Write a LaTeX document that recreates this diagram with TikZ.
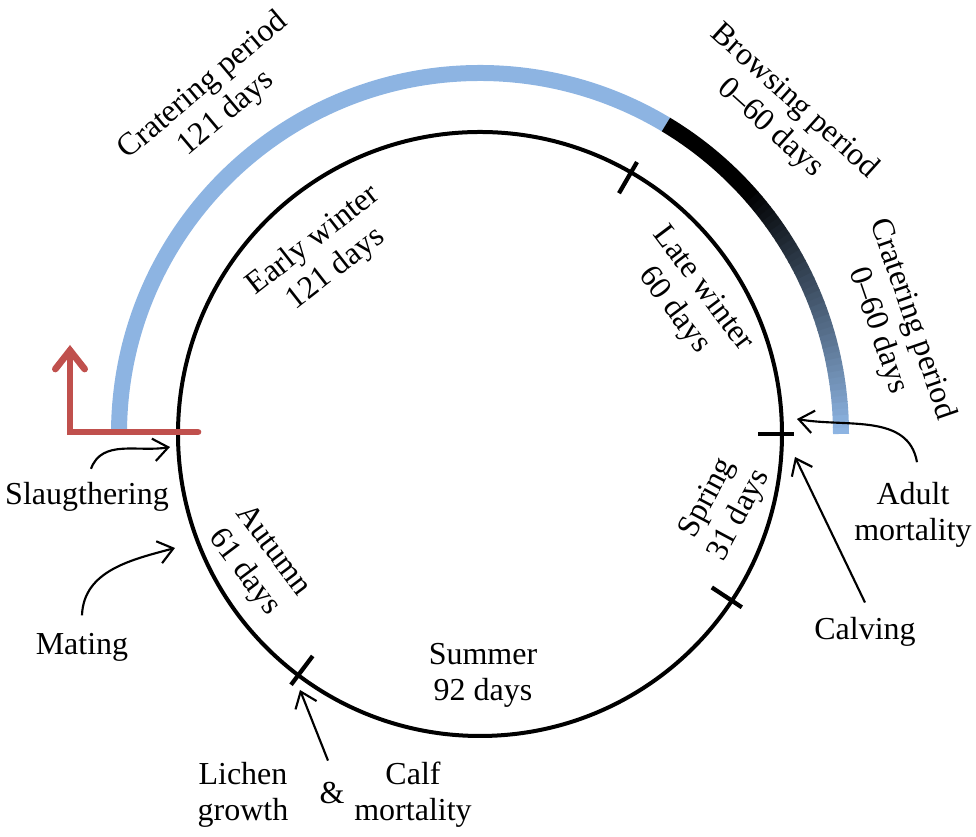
\documentclass[tikz,border=0pt]{standalone}
\usepackage{fontspec}
\setmainfont{Liberation Serif}
\usetikzlibrary{arrows.meta}
\definecolor{cratblue}{RGB}{141,180,226}
\definecolor{slaughtred}{RGB}{192,80,77}
\begin{document}
\begin{tikzpicture}[x=0.75pt,y=0.75pt,
  font=\fontsize{24}{27}\selectfont,
  lbl/.style={align=center, inner sep=1pt},
  pointer/.style={line width=1.6pt, -{Straight Barb[length=11pt,width=17pt]}},
  tickmark/.style={line width=3.2pt}]
  \useasboundingbox (0,0) rectangle (976,837);
  \coordinate (c) at (480,403);

  % year circle and season borders
  \draw[line width=3pt] (c) circle (302);
  \foreach \a in {60,0,-33.5,233}
    \draw[tickmark] ([shift={(\a:278)}]c) -- ([shift={(\a:314)}]c);

  % feeding periods
  \draw[cratblue, line width=12pt] ([shift={(180:361)}]c) arc (180:59:361);
  \foreach \a in {0,...,40}{
    \pgfmathtruncatemacro\p{100*\a/41}
    \draw[black!\p!cratblue, line width=12pt] ([shift={(\a:361)}]c) arc (\a:\a+1.1:361);
  }
  \draw[black, line width=12pt] ([shift={(59:361)}]c) arc (59:41:361);

  % seasons
  \node[lbl, rotate=38] (early) at (325,582) {Early winter\\121 days};
  \node[lbl, rotate=-53] (late) at (688,537) {Late winter\\60 days};
  \node[lbl, rotate=62] (spring) at (724,330) {Spring\\31 days};
  \node[lbl] (summer) at (483,162) {Summer\\92 days};
  \node[lbl, rotate=-53] (autumn) at (258,275) {Autumn\\61 days};

  % periods
  \node[lbl, rotate=40] (crat1) at (215,737) {Cratering period\\121 days};
  \node[lbl, rotate=-42] (browse) at (782,722) {Browsing period\\0--60 days};
  \node[lbl, rotate=-71] (crat2) at (895,512) {Cratering period\\0--60 days};

  % events
  \node[lbl] (slaughter) at (87,340) {Slaugthering};
  \node[lbl] (mating) at (82,190) {Mating};
  \node[lbl] (adult) at (913,322) {Adult\\mortality};
  \node[lbl] (calving) at (865,205) {Calving};
  \node[lbl] (lichen) at (243,42) {Lichen\\growth};
  \node[lbl] (amp) at (332,44) {\&};
  \node[lbl] (calf) at (413,42) {Calf\\mortality};

  \coordinate (slaughterpt) at (170,390);
  \coordinate (matingpt) at (175,289);
  \coordinate (adultpt) at (797,418);
  \coordinate (calvingpt) at (795,380);
  \coordinate (lichenpt) at (300,147);

  \draw[pointer] ([xshift=3pt,yshift=9pt]slaughter.north) to[out=70,in=190] (slaughterpt);
  \draw[pointer] ([yshift=12pt]mating.north) to[out=88,in=195] (matingpt);
  \draw[pointer] ([xshift=3pt,yshift=14pt]adult.north) to[out=100,in=-10] (adultpt);
  \draw[pointer] ([yshift=10pt]calving.north) -- (calvingpt);
  \draw[pointer] ([xshift=-3pt,yshift=15pt]amp.north) -- (lichenpt);

  % start of the year
  \draw[slaughtred, line width=5pt, line cap=round,
    -{Straight Barb[length=14pt,width=22pt,line cap=round]}]
    (198,405) -- (70,405) -- (70,492);
\end{tikzpicture}
\end{document}
